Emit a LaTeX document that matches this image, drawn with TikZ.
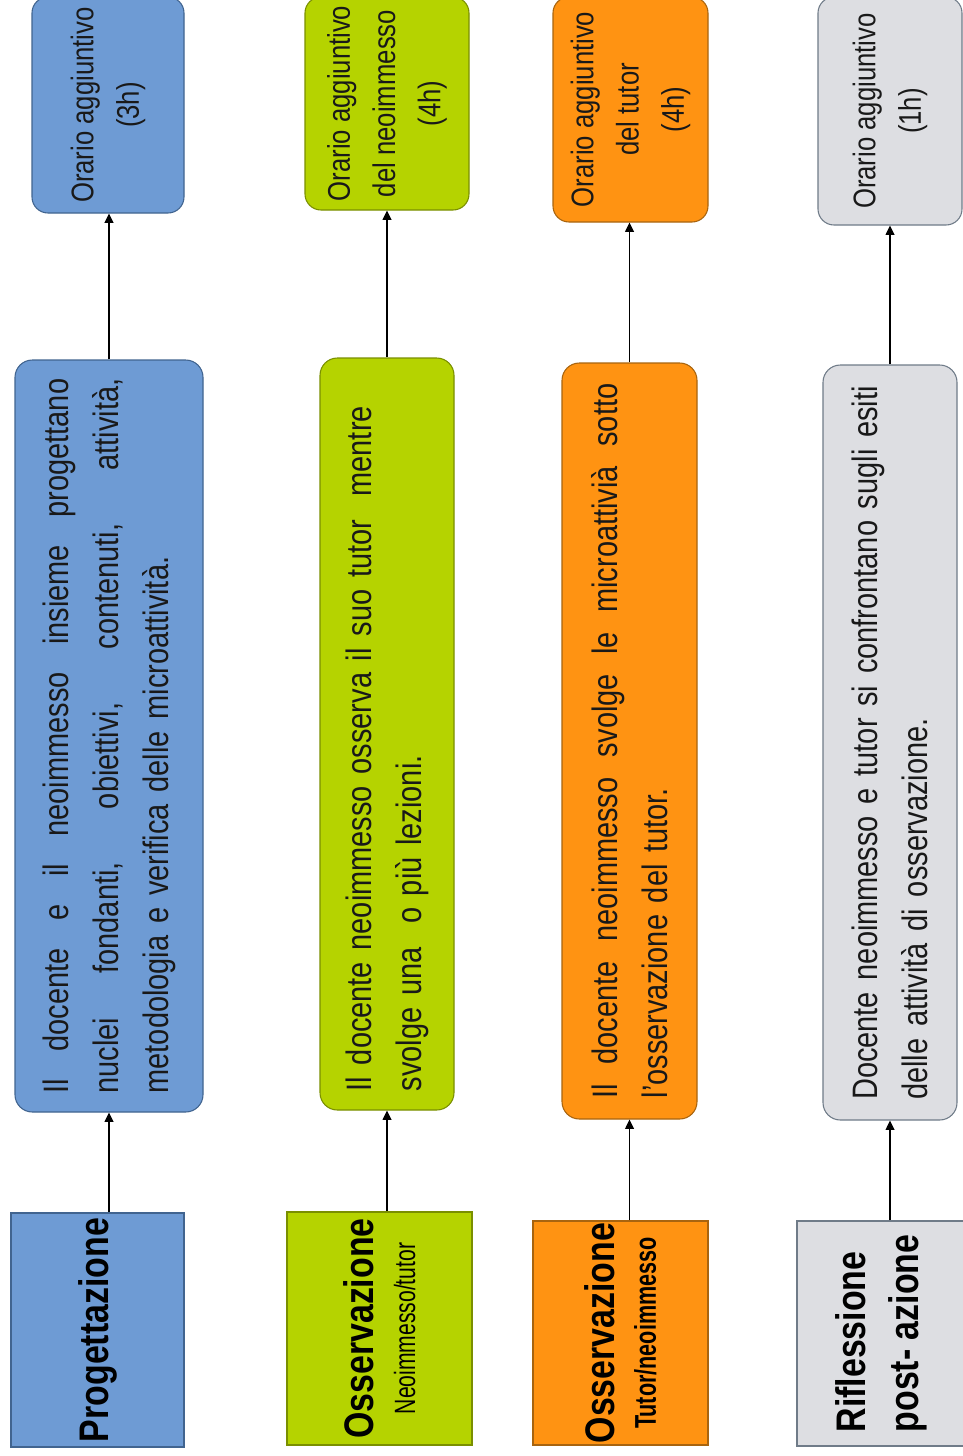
\documentclass[tikz,border=0pt]{standalone}
\usepackage{fontspec}
\setmainfont[FakeStretch=0.82]{Liberation Sans}
\newfontfamily\narrowfont[FakeStretch=0.72]{Liberation Sans}
\usetikzlibrary{arrows.meta}

\definecolor{progfill}{HTML}{6E9BD4}
\definecolor{progline}{HTML}{41648F}
\definecolor{ossnfill}{HTML}{B5D300}
\definecolor{ossnline}{HTML}{7A8F00}
\definecolor{osstfill}{HTML}{FF9312}
\definecolor{osstline}{HTML}{A8640F}
\definecolor{riflfill}{HTML}{DDDEE2}
\definecolor{riflline}{HTML}{6F7B88}

% a justified line, spread over the whole text width
\newcommand{\fullline}[1]{\makebox[\hsize][s]{\spaceskip=0pt #1}}

\begin{document}
\begin{tikzpicture}[x=0.75pt,y=-0.75pt,
  titlebox/.style={rotate=90,draw,line width=0.8pt,inner sep=0pt,align=center,
    font=\bfseries\fontsize{31}{31}\selectfont},
  midbox/.style={rotate=90,draw,line width=0.8pt,rounded corners=13pt,inner sep=0pt,
    align=left,text width=536pt,text=black!90,font=\fontsize{26.5}{37.5}\selectfont},
  hourbox/.style={rotate=90,draw,line width=0.8pt,rounded corners=12pt,inner sep=0pt,
    align=center,text=black!90,font=\fontsize{23.5}{34}\selectfont},
  prog/.style={fill=progfill,draw=progline},
  ossn/.style={fill=ossnfill,draw=ossnline},
  osst/.style={fill=osstfill,draw=osstline},
  rifl/.style={fill=riflfill,draw=riflline},
  arr/.style={-{Triangle[length=7pt,width=6.5pt]},line width=1.2pt}]
\path[use as bounding box,fill=white] (0,0) rectangle (963,1456);

% progettazione
\node[titlebox,prog,minimum width=175.5pt,minimum height=129.75pt] (p1) at (97.5,1330) {Progettazione};
\node[midbox,prog,minimum width=564pt,minimum height=141pt] (m1) at (109,736)
  {\fullline{Il docente e il neoimmesso insieme progettano}\\
   \fullline{nuclei fondanti, obiettivi, contenuti, attività,}\\
   metodologia e verifica delle microattività.};
\node[hourbox,prog,minimum width=162pt,minimum height=114pt] (t1) at (108,105) {Orario aggiuntivo\\(3h)};

% osservazione neoimmesso/tutor
\node[titlebox,ossn,minimum width=174.75pt,minimum height=138.75pt] (p2) at (379.5,1328.5)
  {Osservazione\\{\mdseries\narrowfont\fontsize{22}{31}\selectfont Neoimmesso/tutor}};
\node[midbox,ossn,minimum width=564pt,minimum height=100.5pt] (m2) at (387,734)
  {Il docente neoimmesso osserva il suo tutor\ \ mentre\\
   svolge una\ \ o più lezioni.};
\node[hourbox,ossn,minimum width=159.75pt,minimum height=123pt] (t2) at (387,103.5) {Orario aggiuntivo\\del neoimmesso\\(4h)};

% osservazione tutor/neoimmesso
\node[titlebox,osst,minimum width=168pt,minimum height=131.25pt] (p3) at (620.5,1333)
  {Osservazione\\{\narrowfont\fontsize{22.5}{31}\selectfont Tutor/neoimmesso}};
\node[midbox,osst,minimum width=567pt,minimum height=101.25pt] (m3) at (629.5,741)
  {\fullline{Il docente neoimmesso svolge le microattivià sotto}\\
   l'osservazione del tutor.};
\node[hourbox,osst,minimum width=168.75pt,minimum height=116.25pt] (t3) at (630.5,109.5) {Orario aggiuntivo\\del tutor\\(4h)};

% riflessione
\node[titlebox,rifl,align=left,font=\bfseries\fontsize{31}{40}\selectfont,
  minimum width=168.75pt,minimum height=126.75pt] (p4) at (881.5,1333.5) {Riflessione\\post- azione};
\node[midbox,rifl,minimum width=566.25pt,minimum height=100.5pt] (m4) at (890,742.5)
  {\mbox{Docente neoimmesso e tutor si confrontano sugli esiti}\\
   delle attività di osservazione.};
\node[hourbox,rifl,minimum width=171pt,minimum height=108pt] (t4) at (890,111) {Orario aggiuntivo\\(1h)};

\foreach \i in {1,2,3,4}{
  \draw[arr] (m\i.west |- p\i.east) -- (m\i.west);
  \draw[arr] (m\i.east) -- (m\i.east |- t\i.west);
}
\end{tikzpicture}
\end{document}
